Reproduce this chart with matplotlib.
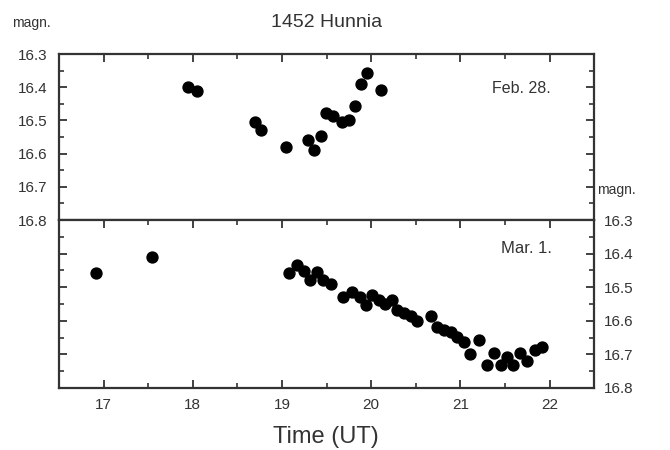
import matplotlib
matplotlib.use("Agg")
import matplotlib.pyplot as plt
from matplotlib.ticker import MultipleLocator

plt.rcParams['font.family'] = ['Liberation Sans', 'DejaVu Sans']

# Feb. 28 observations
feb_time = [17.945, 18.043, 18.693, 18.76, 19.04, 19.29, 19.358, 19.436, 19.497,
            19.575, 19.668, 19.747, 19.822, 19.889, 19.956, 20.105]
feb_mag = [16.398, 16.41, 16.506, 16.53, 16.579, 16.558, 16.589, 16.548, 16.478,
           16.488, 16.506, 16.498, 16.458, 16.389, 16.357, 16.408]

# Mar. 1 observations
mar_time = [16.918, 17.546, 19.078, 19.171, 19.246, 19.313, 19.388, 19.463, 19.553,
            19.687, 19.788, 19.87, 19.937, 20.012, 20.086, 20.15, 20.236, 20.293,
            20.367, 20.442, 20.517, 20.666, 20.741, 20.815, 20.89, 20.965, 21.039,
            21.107, 21.212, 21.301, 21.376, 21.451, 21.526, 21.593, 21.667, 21.742,
            21.832, 21.918]
mar_mag = [16.459, 16.41, 16.459, 16.435, 16.452, 16.479, 16.455, 16.479, 16.491,
           16.529, 16.515, 16.529, 16.552, 16.522, 16.537, 16.549, 16.537, 16.567,
           16.577, 16.587, 16.602, 16.587, 16.619, 16.627, 16.632, 16.649, 16.662,
           16.698, 16.657, 16.731, 16.696, 16.731, 16.708, 16.731, 16.696, 16.721,
           16.686, 16.677]

x_ticks = [17, 18, 19, 20, 21, 22]
y_ticks = [16.3, 16.4, 16.5, 16.6, 16.7, 16.8]
y_labels = ['16.3', '16.4', '16.5', '16.6', '16.7', '16.8']

txt = '#333333'
spine_c = '#333333'

fig = plt.figure(figsize=(6.7, 4.5), dpi=100)
L, R = 0.088, 0.887
ax1 = fig.add_axes([L, 0.511, R - L, 0.88 - 0.511])
ax2 = fig.add_axes([L, 0.138, R - L, 0.511 - 0.138])

for ax in (ax1, ax2):
    ax.set_xlim(16.5, 22.5)
    ax.set_ylim(16.8, 16.3)
    ax.set_xticks(x_ticks)
    ax.xaxis.set_minor_locator(MultipleLocator(0.5))
    ax.set_yticks(y_ticks)
    ax.yaxis.set_minor_locator(MultipleLocator(0.05))
    for s in ax.spines.values():
        s.set_linewidth(1.6)
        s.set_color(spine_c)
    ax.tick_params(which='major', direction='in', length=6, width=1.3, color=spine_c,
                   labelsize=11, labelcolor=txt)
    ax.tick_params(which='minor', direction='in', length=3.5, width=1.2, color=spine_c)

ax1.scatter(feb_time, feb_mag, s=62, color='black', zorder=3, clip_on=False)
ax2.scatter(mar_time, mar_mag, s=62, color='black', zorder=3, clip_on=False)

# top panel: ticks on top x, both y, labels left only
ax1.tick_params(axis='x', which='both', top=True, bottom=False, labelbottom=False)
ax1.tick_params(axis='y', which='both', left=True, right=True, labelleft=True,
                labelright=False)
ax1.tick_params(axis='y', which='major', pad=8)
ax1.set_yticklabels(y_labels)

# bottom panel
ax2.tick_params(axis='x', which='both', top=True, bottom=True, labelbottom=True)
ax2.tick_params(axis='x', which='major', pad=7)
ax2.tick_params(axis='y', which='both', left=True, right=True, labelleft=False,
                labelright=True)
ax2.tick_params(axis='y', which='major', pad=7)
ax2.set_yticklabels(y_labels)

fig.text(0.487, 0.028, 'Time (UT)', ha='center', va='center', fontsize=17, color=txt)
fig.text(0.487, 0.95, '1452 Hunnia', ha='center', va='center', fontsize=14, color=txt)
fig.text(0.018, 0.95, 'magn.', ha='left', va='center', fontsize=10, color=txt)
fig.text(0.891, 0.578, 'magn.', ha='left', va='center', fontsize=10, color=txt)
ax1.text(0.918, 0.795, 'Feb. 28.', transform=ax1.transAxes, ha='right', va='center',
         fontsize=11.5, color=txt)
ax2.text(0.92, 0.83, 'Mar. 1.', transform=ax2.transAxes, ha='right', va='center',
         fontsize=12, color=txt)

fig.savefig('out.png', dpi=100, facecolor='white')
